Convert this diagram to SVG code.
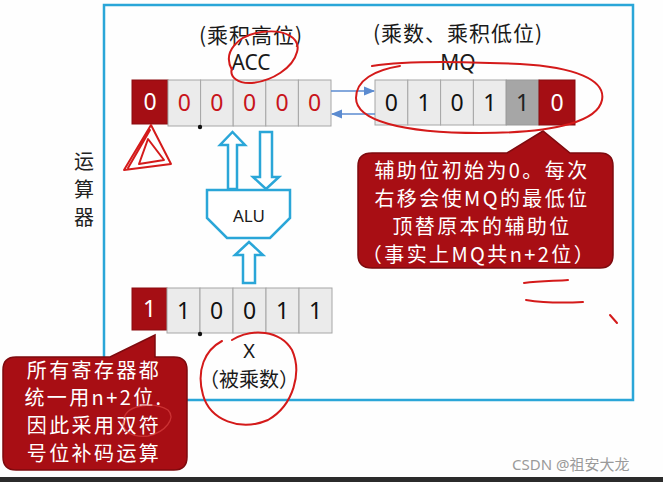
<svg xmlns="http://www.w3.org/2000/svg" width="663" height="482" viewBox="0 0 663 482">
<defs>
<style>
.t{font-family:"Noto Sans","Noto Sans CJK SC",sans-serif;}
.cj{font-family:"Noto Sans CJK SC","Noto Sans",sans-serif;}
.cell{fill:#ebebeb;stroke:#a6a6a6;stroke-width:1;}
.rcell{fill:#a50e14;stroke:#8a0a0f;stroke-width:1;}
.dg{fill:#a6a6a6;stroke:#999;stroke-width:1;}
.dig{font-size:23px;text-anchor:middle;}
.hollow{fill:#fff;stroke:#2aa6d8;stroke-width:2.5;stroke-linejoin:miter;}
.call{fill:#a80e14;stroke:#7e0a0e;stroke-width:1.5;}
.ct{font-size:20px;letter-spacing:2.4px;fill:#fff;text-anchor:middle;}
.ink{fill:none;stroke:#d41a1a;stroke-width:2;stroke-linecap:round;stroke-linejoin:round;}
.lbl{font-size:21px;letter-spacing:1px;fill:#1a1a1a;text-anchor:middle;}
</style>
<marker id="ah" viewBox="0 0 10 10" refX="9" refY="5" markerWidth="7" markerHeight="7" orient="auto">
<path d="M0,1 L10,5 L0,9 z" fill="#5b8bd0"/>
</marker>
</defs>
<rect width="663" height="482" fill="#fefefe"/>
<rect x="104" y="5" width="529" height="395" fill="none" stroke="#2aa6d8" stroke-width="2.5"/>
<rect x="0" y="477" width="663" height="5" fill="#2b2b2b"/>

<g id="label-unit">
<text class="cj" font-size="20" fill="#222" text-anchor="middle"><tspan x="84" y="169">运</tspan><tspan x="84" y="197">算</tspan><tspan x="84" y="225">器</tspan></text>
</g>

<g id="acc">
<text class="cj lbl" x="251" y="43">(乘积高位)</text>
<text class="t" x="251" y="70" font-size="21" text-anchor="middle" fill="#1a1a1a">ACC</text>
<rect class="rcell" x="132" y="80" width="36" height="44"/>
<rect class="cell" x="168" y="80" width="32.6" height="46"/>
<rect class="cell" x="200.6" y="80" width="32.6" height="46"/>
<rect class="cell" x="233.2" y="80" width="32.6" height="46"/>
<rect class="cell" x="265.8" y="80" width="32.6" height="46"/>
<rect class="cell" x="298.4" y="80" width="32.6" height="46"/>
<circle cx="200" cy="127" r="2.2" fill="#111"/>
<g class="t dig">
<text x="150" y="110" fill="#fff">0</text>
<text x="184.3" y="111" fill="#c8141b">0</text>
<text x="216.9" y="111" fill="#c8141b">0</text>
<text x="249.5" y="111" fill="#c8141b">0</text>
<text x="282.1" y="111" fill="#c8141b">0</text>
<text x="314.7" y="111" fill="#c8141b">0</text>
</g>
</g>

<g id="mq">
<text class="cj lbl" x="458" y="41">(乘数、乘积低位)</text>
<text class="t" x="458" y="70" font-size="21" text-anchor="middle" fill="#1a1a1a">MQ</text>
<rect class="cell" x="375" y="80" width="32.8" height="45"/>
<rect class="cell" x="407.8" y="80" width="32.8" height="45"/>
<rect class="cell" x="440.6" y="80" width="32.8" height="45"/>
<rect class="cell" x="473.4" y="80" width="32.8" height="45"/>
<rect class="dg" x="506.2" y="80" width="32.8" height="45"/>
<rect class="rcell" x="539" y="80" width="36" height="45"/>
<g class="t dig">
<text x="391.4" y="111" fill="#111">0</text>
<text x="424.2" y="111" fill="#111">1</text>
<text x="457" y="111" fill="#111">0</text>
<text x="489.8" y="111" fill="#111">1</text>
<text x="522.6" y="111" fill="#222">1</text>
<text x="557" y="111" fill="#fff">0</text>
</g>
</g>

<g id="alu">
<polygon points="207,190 290,190 290,218 270,238 227,238 207,218" fill="#fff" stroke="#2aa6d8" stroke-width="2.5"/>
<text class="t" x="249" y="222" font-size="17" text-anchor="middle" fill="#1a1a1a">ALU</text>
</g>

<g id="x">
<rect class="rcell" x="132" y="288" width="35" height="42"/>
<rect class="cell" x="167" y="288" width="33" height="45"/>
<rect class="cell" x="200" y="288" width="33" height="45"/>
<rect class="cell" x="233" y="288" width="33" height="45"/>
<rect class="cell" x="266" y="288" width="33" height="45"/>
<rect class="cell" x="299" y="288" width="33" height="45"/>
<circle cx="200" cy="334" r="2.2" fill="#111"/>
<g class="t dig">
<text x="149.5" y="317" fill="#fff">1</text>
<text x="183.5" y="319" fill="#111">1</text>
<text x="216.5" y="319" fill="#111">0</text>
<text x="249.5" y="319" fill="#111">0</text>
<text x="282.5" y="319" fill="#111">1</text>
<text x="315.5" y="319" fill="#111">1</text>
</g>
<text class="t" x="249" y="358" font-size="20" text-anchor="middle" fill="#1a1a1a">X</text>
<text class="cj" x="249" y="387" font-size="20" text-anchor="middle" fill="#1a1a1a">（被乘数）</text>
</g>

<g id="connectors">
<line x1="331" y1="91" x2="374" y2="91" stroke="#5b8bd0" stroke-width="1.6" marker-end="url(#ah)"/>
<line x1="375" y1="114" x2="332" y2="114" stroke="#5b8bd0" stroke-width="1.6" marker-end="url(#ah)"/>
<polygon class="hollow" points="228,189 228,145 220,145 232.5,132 245,145 237,145 237,189"/>
<polygon class="hollow" points="260,132 272,132 272,177 279,177 266,189 253,177 260,177"/>
<polygon class="hollow" points="243,283 243,255 235,255 249,242 263,255 255,255 255,283"/>
</g>

<g id="callout-right">
<path class="call" d="M372,153 L507,153 L543,131 L570,153 L600,153 Q613,153 613,166 L613,255 Q613,268 600,268 L372,268 Q358,268 358,255 L358,166 Q358,153 372,153 Z"/>
<g class="cj ct">
<text x="482" y="178">辅助位初始为0。每次</text>
<text x="482" y="206">右移会使MQ的最低位</text>
<text x="482" y="234">顶替原本的辅助位</text>
<text x="479" y="262">（事实上MQ共n+2位）</text>
</g>
</g>

<g id="callout-left">
<path class="call" d="M16,357 L110,357 L155,335 L155,357 L174,357 Q187,357 187,370 L187,457 Q187,470 174,470 L16,470 Q3,470 3,457 L3,370 Q3,357 16,357 Z"/>
<g class="cj ct">
<text x="94" y="378">所有寄存器都</text>
<text x="94" y="405">统一用n+2位.</text>
<text x="94" y="433">因此采用双符</text>
<text x="94" y="461">号位补码运算</text>
</g>
</g>

<g id="ink">
<path class="ink" d="M232,70 C222,52 238,35 262,32 C285,29 301,38 297,52 C293,68 272,81 252,83 C238,84 229,77 232,68"/>
<path class="ink" d="M372,66 C410,60 470,62 520,64 C575,67 606,80 602,100 C598,120 560,133 480,133 C400,133 356,120 356,98 C356,80 375,70 400,66"/>
<path class="ink" d="M151,125 L124,170 L171,164 Z M148,139 L139,164 L164,160 Z M150,130 L128,168"/>
<path class="ink" d="M232,340 C252,328 280,330 292,350 C302,372 294,405 268,420 C240,432 210,420 203,395 C196,370 205,350 222,341"/>
<path class="ink" d="M524,283 C540,281 555,281 568,280"/>
<path class="ink" d="M526,300 C545,303 565,303 583,302"/>
<path class="ink" d="M610,315 L617,323"/>
<path d="M124,418 C128,404 155,402 168,410 C176,418 166,432 148,436 C132,438 120,430 124,420" fill="none" stroke="#d84040" stroke-width="1.3" opacity="0.7"/>
</g>

<text class="t" x="512" y="470" font-size="15" fill="#9a9a9a">CSDN @<tspan class="cj">祖安大龙</tspan></text>
</svg>
